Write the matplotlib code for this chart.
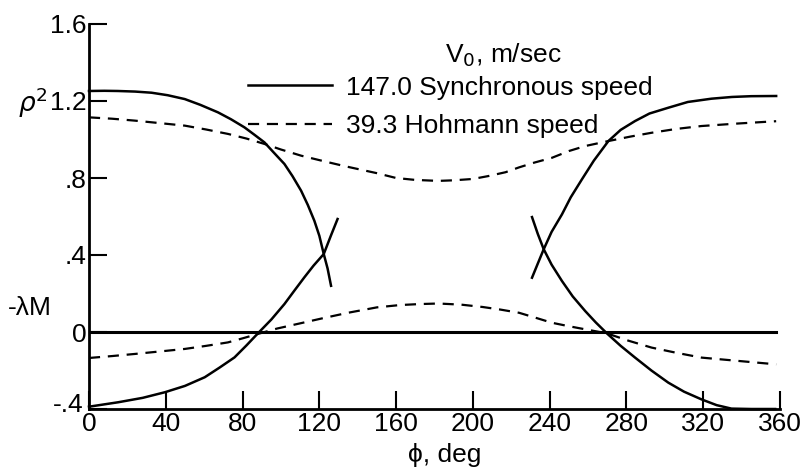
import numpy as np
import matplotlib.pyplot as plt
from matplotlib.transforms import ScaledTranslation

# phi in degrees
# rho^2, synchronous speed (two branches)
phi_rho_syn_l = [0, 8, 15, 24, 32.6, 41, 49.9, 58, 67.2, 74, 81, 86, 91.4, 96, 101.8,
                 106, 110.5, 114, 117.4, 120, 122.3, 124.3, 126.1]
rho_syn_l = [1.252, 1.253, 1.252, 1.249, 1.243, 1.23, 1.21, 1.18, 1.141, 1.105, 1.063,
             1.026, 0.985, 0.935, 0.873, 0.81, 0.734, 0.66, 0.578, 0.50, 0.405, 0.33, 0.24]
phi_rho_syn_r = [230.8, 233.8, 236.9, 241, 246.4, 251, 256.8, 263, 270.6, 277, 284.5,
                 292, 301.8, 312, 324.3, 335, 345, 358]
rho_syn_r = [0.282, 0.355, 0.43, 0.52, 0.611, 0.70, 0.793, 0.89, 0.992, 1.05, 1.096,
             1.135, 1.165, 1.195, 1.212, 1.221, 1.225, 1.226]

# -lambda M, synchronous speed (two branches)
phi_lm_syn_l = [0, 15.2, 28, 39.5, 50, 60.3, 68, 75.8, 82, 88, 95, 101.8, 107, 112.2,
                117, 122.3, 126, 129.5]
lm_syn_l = [-0.388, -0.365, -0.342, -0.313, -0.28, -0.235, -0.185, -0.132, -0.07,
            -0.007, 0.065, 0.145, 0.215, 0.284, 0.345, 0.405, 0.50, 0.587]
phi_lm_syn_r = [230.8, 233.8, 236.9, 241, 246.4, 252, 258.5, 264, 269.8, 277, 284.5,
                293, 301.8, 310, 319.1, 327, 334.7, 345, 357.5]
lm_syn_r = [0.597, 0.51, 0.43, 0.35, 0.265, 0.185, 0.109, 0.05, -0.007, -0.072, -0.133,
            -0.20, -0.263, -0.31, -0.35, -0.38, -0.398, -0.40, -0.40]

# Hohmann speed
phi_hoh = [0, 12, 23.9, 36, 49.9, 61, 72.4, 82, 91.4, 100, 110.5, 122, 133, 150, 160,
           170, 182, 190, 200, 208, 217, 224, 232, 241.2, 250, 258.5, 270.6, 282,
           293.1, 306, 319.1, 338, 358]
rho_hoh = [1.115, 1.108, 1.098, 1.086, 1.072, 1.052, 1.029, 1.005, 0.977, 0.948, 0.916,
           0.888, 0.862, 0.825, 0.80, 0.79, 0.785, 0.788, 0.795, 0.81, 0.83, 0.855, 0.88,
           0.905, 0.94, 0.966, 0.992, 1.015, 1.035, 1.055, 1.07, 1.083, 1.095]
phi_lm_hoh = [0, 12, 23.9, 36, 49.9, 61, 72.4, 80, 88, 98, 108.7, 122, 135, 150, 162,
              172, 182, 194, 205, 214, 224, 233, 241.2, 250, 258.5, 269.8, 281, 293.1,
              306, 319.1, 338, 358]
lm_hoh = [-0.135, -0.125, -0.114, -0.102, -0.088, -0.072, -0.054, -0.033, -0.01, 0.018,
          0.042, 0.072, 0.10, 0.128, 0.14, 0.145, 0.148, 0.142, 0.13, 0.117, 0.10,
          0.073, 0.048, 0.03, 0.014, -0.007, -0.045, -0.081, -0.108, -0.133, -0.15, -0.168]

zero_phi = [0, 358]
zero_val = [0, 0]

xticks = list(range(0, 361, 40))
yticks = [-0.4, 0, 0.4, 0.8, 1.2, 1.6]
ylabels = ['-.4', '0', '.4', '.8', '1.2', '1.6']

plt.rcParams['font.family'] = ['Liberation Sans', 'DejaVu Sans']
plt.rcParams['mathtext.fontset'] = 'dejavusans'
fs = 19

fig = plt.figure(figsize=(8.08, 4.69), dpi=100)
ax = fig.add_axes([89/808, 1-409/469, (780-89)/808, (409-24)/469])

lw = 1.8
dash = (0, (5, 3.5))
l_syn, = ax.plot(phi_rho_syn_l, rho_syn_l, color='black', lw=lw, clip_on=False)
ax.plot(phi_rho_syn_r, rho_syn_r, color='black', lw=lw, clip_on=False)
ax.plot(phi_lm_syn_l, lm_syn_l, color='black', lw=lw, clip_on=False)
ax.plot(phi_lm_syn_r, lm_syn_r, color='black', lw=lw, clip_on=False)
ax.plot(zero_phi, zero_val, color='black', lw=2.2)
l_hoh, = ax.plot(phi_hoh, rho_hoh, color='black', lw=1.6, ls=dash)
ax.plot(phi_lm_hoh, lm_hoh, color='black', lw=1.6, ls=dash)

ax.set_xlim(0, 360)
ax.set_ylim(-0.4, 1.6)
ax.set_xticks(xticks)
ax.set_xticklabels([str(t) for t in xticks], fontsize=fs)
ax.set_yticks(yticks)
ax.set_yticklabels(ylabels, fontsize=fs)
ax.tick_params(direction='in', length=13, width=1.5)
ax.tick_params(axis='x', pad=2)
ax.tick_params(axis='y', pad=2)
for s in ['top', 'right']:
    ax.spines[s].set_visible(False)
for s in ['left', 'bottom']:
    ax.spines[s].set_linewidth(2)

# lift the bottom y label clear of the x "0"
low = ax.get_yticklabels()[0]
low.set_transform(low.get_transform() + ScaledTranslation(-2/72, 5/72, fig.dpi_scale_trans))

ax.set_xlabel('ϕ, deg', fontsize=fs)
ax.xaxis.set_label_coords((445-89)/691, -0.088)

fig.text(18/808, 1-103/469, r'$\rho^2$', fontsize=fs, ha='left', va='center')
fig.text(8/808, 1-308/469, '-λM', fontsize=fs, ha='left', va='center')
fig.text(503/808, 1-55/469, r'V$_0$, m/sec', fontsize=fs, ha='center', va='center')

ax.legend([l_syn, l_hoh], ['147.0 Synchronous speed', '39.3 Hohmann speed'],
          loc='center left', bbox_to_anchor=(248/808, 1-107/469),
          bbox_transform=fig.transFigure, frameon=False, fontsize=fs,
          handlelength=3.2, handletextpad=0.5, labelspacing=0.56,
          borderpad=0, borderaxespad=0)

fig.savefig('out.png', dpi=100)
